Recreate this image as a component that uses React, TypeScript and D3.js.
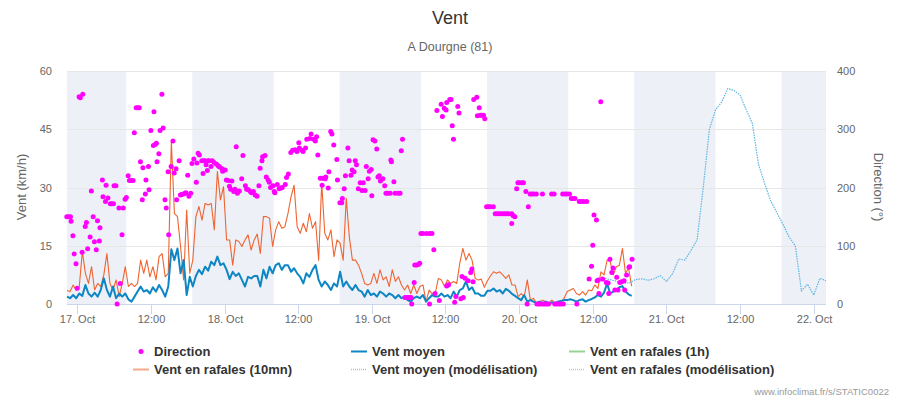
import React, { useEffect, useRef } from 'react';
import * as d3 from 'd3';

// hours are counted from 17 Oct 00:00
const day0 = new Date(2023, 9, 17, 0, 0).getTime();
const obsStartHour = -5 / 3; // 16 Oct 22:20
const obsStepHours = 0.5;

const gust10mn = [
  3.5, 3.2, 4.9, 3.6, 4.5, 13.5, 7.9, 5.3, 9.6, 3.6,
  5.3, 4.5, 7.5, 13.0, 5.3, 3.6, 6.2, 1.9, 5.3, 9.6,
  4.5, 5.3, 4.5, 5.3, 11.3, 7.9, 11.3, 7.0, 9.6, 6.2,
  12.2, 13.0, 7.0, 7.9, 42.0, 23.3, 22.5, 14.8, 6.2, 24.2,
  7.9, 11.3, 22.5, 25.1, 21.6, 25.9, 25.5, 25.9, 19.1, 34.1,
  26.8, 30.2, 16.5, 16.5, 10.0, 16.5, 16.1, 14.8, 16.5, 17.8,
  13.9, 16.5, 18.0, 13.0, 22.5, 22.5, 22.1, 14.8, 19.1, 21.2,
  19.5, 19.9, 23.3, 27.6, 30.6, 19.9, 18.2, 20.8, 18.6, 23.3,
  19.5, 21.2, 11.3, 31.1, 18.2, 16.5, 19.1, 12.2, 16.5, 15.6,
  11.3, 27.2, 17.3, 11.3, 11.3, 10.0, 7.9, 5.3, 4.9, 5.3,
  7.9, 5.3, 8.8, 6.2, 7.0, 4.5, 8.8, 5.8, 7.0, 4.9,
  3.6, 4.9, 2.7, 4.9, 2.7, 4.5, 4.9, 0.6, 3.6, 2.7,
  2.7, 6.6, 6.2, 4.6, 6.2, 5.3, 5.8, 5.3, 10.5, 14.3,
  11.3, 13.0, 11.3, 6.6, 6.2, 6.4, 4.3, 6.0, 7.2, 8.3,
  7.9, 8.3, 7.5, 6.6, 7.5, 4.9, 4.9, 1.9, 2.7, 1.9,
  6.2, 1.0, 1.5, 0.2, 0.6, 1.0, 0.6, 0.2, 1.0, 0.2,
  0.3, 0.3, 1.5, 3.2, 3.6, 4.0, 2.7, 2.3, 3.2, 2.3,
  3.6, 3.4, 4.9, 4.0, 8.3, 7.5, 11.3, 10.9, 7.5, 9.6,
  10.0, 14.3, 7.9, 9.2, 4.6,
];

const meanWind = [
  1.9, 1.5, 2.3, 1.5, 2.7, 2.1, 4.9, 2.7, 1.9, 2.9,
  1.9, 3.6, 6.6, 3.6, 1.9, 4.5, 1.5, 2.7, 1.9, 2.7,
  1.2, 0.6, 1.9, 3.2, 4.5, 3.2, 3.6, 2.7, 4.3, 3.2,
  4.9, 3.6, 1.9, 4.5, 14.1, 11.3, 14.3, 7.9, 11.3, 2.3,
  7.0, 4.5, 7.2, 8.8, 7.7, 9.6, 8.6, 10.9, 10.0, 12.2,
  10.0, 10.5, 8.8, 6.4, 8.3, 7.2, 7.9, 6.2, 4.5, 7.0,
  6.6, 7.2, 7.2, 4.5, 8.8, 6.6, 9.6, 7.9, 10.0, 10.5,
  8.8, 10.0, 10.0, 8.3, 9.2, 7.9, 7.0, 5.3, 7.9, 7.0,
  8.8, 10.0, 6.2, 4.5, 5.8, 4.9, 3.6, 5.3, 4.5, 8.3,
  4.5, 5.8, 4.5, 3.6, 4.9, 3.6, 3.2, 1.9, 3.6, 2.3,
  2.7, 1.9, 3.2, 2.7, 1.9, 2.7, 2.3, 1.5, 2.3, 1.5,
  1.9, 1.0, 0.6, 1.5, 1.9, 1.5, 2.3, 0.6, 1.5, 2.3,
  1.9, 1.9, 2.7, 1.9, 2.3, 1.5, 3.2, 1.9, 3.6, 4.0,
  5.8, 3.6, 4.3, 2.7, 2.7, 2.1, 2.1, 3.4, 3.4, 4.0,
  3.2, 3.6, 2.7, 3.9, 3.4, 2.6, 2.1, 1.5, 1.0, 2.3,
  0.6, 1.0, 0.6, 0.2, 0.6, 0.2, 0.6, 0.2, 0.4, 0.2,
  0.6, 0.8, 1.0, 1.0, 1.2, 1.0, 0.6, 1.0, 1.2, 0.6,
  1.0, 1.3, 1.7, 2.3, 1.9, 2.9, 5.3, 2.7, 3.2, 3.6,
  4.3, 4.6, 3.2, 2.5, 2.1,
];

// [hour, degrees]
const direction: [number, number][] = [
  [-1.7, 150], [-1.4, 150], [-1.1, 150], [-1.0, 142], [-0.7, 117], [-0.5, 86], [-0.2, 69], [0, 27],
  [0.3, 356], [0.5, 354], [0.8, 89], [0.9, 360], [1.3, 133], [1.5, 140], [1.7, 95], [2.1, 115],
  [2.3, 194], [2.6, 150], [2.8, 107], [3.1, 93], [3.3, 143], [3.6, 108], [3.7, 131], [4.1, 213],
  [4.2, 184], [4.6, 176], [4.7, 204], [5.0, 182], [5.4, 172], [5.6, 172], [5.9, 172], [6.0, 203],
  [6.3, 203], [6.5, 0], [6.8, 165], [7.0, 35], [7.3, 119], [7.5, 165], [7.8, 180], [8.0, 183],
  [8.3, 220], [8.5, 212], [8.8, 212], [9.1, 212], [9.3, 294], [9.6, 337], [9.9, 337], [10.1, 337],
  [10.3, 244], [10.6, 179], [10.7, 234], [11.1, 189], [11.2, 213], [11.6, 236], [11.7, 196], [12.0, 298],
  [12.4, 272], [12.5, 330], [12.7, 274], [12.9, 276], [13.0, 244], [13.3, 258], [13.5, 298], [13.8, 360],
  [14.0, 302], [14.3, 179], [14.5, 165], [14.8, 227], [14.9, 119], [15.3, 236], [15.6, 280], [15.8, 225],
  [16.1, 232], [16.2, 179], [16.6, 246], [16.8, 187], [17.0, 188], [17.3, 189], [17.6, 190], [17.7, 191],
  [18.0, 221], [18.2, 185], [18.5, 190], [18.7, 241], [19.0, 249], [19.4, 209], [19.5, 242], [19.7, 259],
  [19.9, 256], [20.3, 246], [20.5, 224], [20.6, 246], [20.8, 246], [21.0, 239], [21.2, 229], [21.3, 246],
  [21.5, 246], [21.8, 236], [22.0, 246], [22.3, 243], [22.7, 240], [23.0, 237], [23.2, 235], [23.6, 232],
  [23.7, 228], [24.1, 230], [24.3, 213], [24.6, 212], [24.8, 202], [25.0, 197], [25.2, 211], [25.5, 193],
  [25.7, 197], [25.9, 270], [26.1, 190], [26.4, 194], [26.8, 215], [27.0, 255], [27.4, 203], [27.6, 197],
  [27.9, 196], [28.2, 193], [28.4, 191], [28.7, 193], [29.0, 187], [29.3, 185], [29.6, 203], [29.8, 233],
  [30.1, 246], [30.2, 253], [30.6, 255], [30.8, 218], [31.1, 213], [31.3, 209], [31.5, 200], [31.9, 203],
  [32.1, 193], [32.2, 191], [32.6, 205], [32.9, 198], [33.2, 199], [33.4, 200], [33.9, 205], [34.1, 217],
  [34.4, 223], [34.8, 260], [35.1, 264], [35.5, 265], [35.8, 262], [36.1, 277], [36.2, 268], [36.6, 264],
  [36.8, 262], [37.2, 268], [37.4, 283], [37.9, 284], [38.1, 292], [38.5, 283], [38.8, 280], [39.0, 287],
  [39.2, 256], [39.6, 216], [39.9, 204], [40.0, 216], [40.4, 215], [40.5, 218], [40.9, 199], [41.0, 227],
  [41.3, 296], [41.5, 292], [41.8, 273], [42.3, 248], [42.4, 213], [42.8, 174], [43.1, 174], [43.2, 181],
  [43.5, 198], [43.7, 220], [44.1, 268], [44.3, 246], [44.6, 221], [44.8, 230], [45.1, 227], [45.3, 246],
  [45.5, 239], [45.8, 198], [46.1, 208], [46.4, 195], [46.6, 208], [46.9, 195], [47.1, 236], [47.4, 215],
  [47.6, 228], [47.9, 231], [48.0, 186], [48.2, 282], [48.5, 280], [48.8, 266], [49.0, 218], [49.2, 220],
  [49.4, 211], [49.8, 215], [50.1, 203], [50.3, 190], [50.6, 190], [51.0, 190], [51.1, 247], [51.2, 244],
  [51.6, 210], [51.8, 190], [52.3, 190], [52.6, 190], [52.8, 263], [53.0, 283], [53.4, 11], [53.7, 11],
  [53.9, 11], [54.2, 11], [54.4, 11], [54.5, 0], [54.9, 37], [55.0, 67], [55.3, 67], [55.6, 68],
  [55.8, 70], [56.0, 121], [56.3, 121], [56.9, 121], [57.4, 121], [57.4, 0], [57.8, 121], [58.1, 93],
  [58.3, 18], [58.6, 332], [59.0, 6], [59.3, 343], [59.5, 322], [59.8, 336], [60.1, 333], [60.2, 31],
  [60.2, 346], [60.5, 33], [60.7, 351], [60.9, 351], [61.1, 306], [61.3, 283], [61.5, 3], [61.7, 13],
  [62.0, 339], [62.2, 328], [62.5, 9], [62.7, 47], [62.9, 11], [63.2, 44], [63.7, 40], [64.1, 54],
  [64.3, 60], [64.5, 38], [64.6, 351], [65.1, 355], [65.2, 323], [65.5, 337], [65.7, 324], [65.9, 324],
  [66.2, 324], [66.4, 318], [66.7, 167], [67.0, 167], [67.3, 167], [67.8, 167], [68.1, 155], [68.4, 155],
  [68.7, 155], [69.0, 155], [69.4, 155], [69.7, 155], [70.0, 155], [70.3, 155], [70.8, 138], [70.8, 155],
  [71.0, 152], [71.3, 150], [71.6, 198], [71.8, 208], [72.0, 208], [72.4, 208], [72.7, 208], [73.1, 193],
  [73.3, 0], [73.5, 167], [73.8, 189], [74.1, 189], [74.4, 189], [74.8, 189], [74.9, 0], [75.2, 0],
  [75.5, 0], [75.8, 189], [75.9, 0], [76.2, 0], [76.5, 0], [76.8, 0], [77.3, 189], [77.7, 189],
  [77.8, 0], [78.1, 0], [78.5, 0], [78.8, 0], [79.1, 189], [79.2, 0], [79.5, 189], [79.8, 189],
  [80.2, 189], [80.5, 181], [80.8, 181], [81.1, 181], [81.4, 0], [81.8, 176], [82.1, 176], [82.5, 176],
  [83.0, 176], [83.4, 43], [83.8, 65], [84.0, 101], [84.2, 153], [84.6, 144], [84.7, 40], [84.9, 41],
  [85.0, 18], [85.3, 347], [85.6, 43], [86.2, 37], [86.5, 36], [86.6, 18], [86.8, 77], [87.1, 54],
  [87.3, 62], [87.6, 24], [87.9, 46], [88.1, 24], [88.4, 37], [88.7, 38], [89.1, 40], [89.2, 24],
  [89.5, 50], [89.9, 63], [90.0, 64], [90.4, 77],
];

const modelStartHour = 86;
const modelMean = [
  6.6, 6.2, 5.8, 5.3, 5.5, 6.3, 6.5, 6.1, 6.5, 7.3,
  5.8, 7.8, 11.6, 11.3, 13.8, 16.5, 30.0, 45.0, 50.0, 52.0,
  55.5, 55.0, 53.8, 50.0, 46.5, 36.0, 31.0, 26.5, 23.5, 20.5,
  17.2, 15.0, 3.4, 5.1, 2.3, 6.6, 6.0,
];

// night bands [start hour, end hour]
const nights: [number, number][] = [
  [-2, 8], [18.75, 32], [42.75, 56], [66.75, 80], [90.75, 104], [114.75, 123],
];

const xTickHours = [0, 12, 24, 36, 48, 60, 72, 84, 96, 108, 120];
const windTicks = [0, 15, 30, 45, 60];
const dirTicks = [0, 100, 200, 300, 400];

const toDate = (h: number) => new Date(day0 + h * 3600 * 1000);

const App = () => {
  const ref = useRef<HTMLDivElement>(null);

  useEffect(() => {
    const root = d3.select(ref.current);
    root.selectAll('*').remove();
    const svg = root.append('svg').attr('width', 900).attr('height', 400)
      .style('font-family', '"Liberation Sans", Arial, sans-serif');

    const left = 67, right = 826, top = 71, bottom = 304;
    const x = d3.scaleTime().domain([toDate(obsStartHour), toDate(122)]).range([left, right]);
    const yW = d3.scaleLinear().domain([0, 60]).range([bottom, top]);
    const yD = d3.scaleLinear().domain([0, 400]).range([bottom, top]);

    svg.append('rect').attr('width', 900).attr('height', 400).attr('fill', '#fff');

    // night bands
    svg.append('g').selectAll('rect').data(nights).enter().append('rect')
      .attr('x', d => Math.max(left, x(toDate(d[0]))))
      .attr('width', d => Math.min(right, x(toDate(d[1]))) - Math.max(left, x(toDate(d[0]))))
      .attr('y', top).attr('height', bottom - top)
      .attr('fill', '#edf0f7');

    // grid
    svg.append('g').selectAll('line').data(windTicks).enter().append('line')
      .attr('x1', left).attr('x2', right)
      .attr('y1', d => Math.round(yW(d)) + 0.5).attr('y2', d => Math.round(yW(d)) + 0.5)
      .attr('stroke', '#e6e6e6');

    // x axis
    svg.append('line').attr('x1', left).attr('x2', right).attr('y1', bottom + 0.5).attr('y2', bottom + 0.5)
      .attr('stroke', '#ccd6eb');
    const fmtDay = d3.timeFormat('%-d. %b');
    const xt = svg.append('g').selectAll('g').data(xTickHours).enter().append('g')
      .attr('transform', h => `translate(${Math.round(x(toDate(h))) + 0.5},0)`);
    xt.append('line').attr('y1', bottom).attr('y2', bottom + 10).attr('stroke', '#ccd6eb');
    xt.append('text').attr('y', 323).attr('text-anchor', 'middle')
      .style('font-size', '11px').attr('fill', '#666')
      .text(h => (h % 24 === 0 ? fmtDay(toDate(h)) : '12:00'));

    // y axes labels
    svg.append('g').selectAll('text').data(windTicks).enter().append('text')
      .attr('x', 52).attr('y', d => yW(d) + 4).attr('text-anchor', 'end')
      .style('font-size', '11px').attr('fill', '#666').text(d => d);
    svg.append('g').selectAll('text').data(dirTicks).enter().append('text')
      .attr('x', 837).attr('y', d => yD(d) + 4).attr('text-anchor', 'start')
      .style('font-size', '11px').attr('fill', '#666').text(d => d);
    svg.append('text').attr('transform', 'translate(26,187) rotate(-90)')
      .attr('text-anchor', 'middle').style('font-size', '13px').attr('fill', '#666').text('Vent (km/h)');
    svg.append('text').attr('transform', 'translate(874,187) rotate(90)')
      .attr('text-anchor', 'middle').style('font-size', '13px').attr('fill', '#666').text('Direction (°)');

    // titles
    svg.append('text').attr('x', 450).attr('y', 24).attr('text-anchor', 'middle')
      .style('font-size', '18px').attr('fill', '#333').text('Vent');
    svg.append('text').attr('x', 450).attr('y', 51).attr('text-anchor', 'middle')
      .style('font-size', '12.5px').attr('fill', '#666').text('A Dourgne (81)');

    const obsTime = (i: number) => toDate(obsStartHour + i * obsStepHours);
    const plot = svg.append('g');

    const gustLine = d3.line<number>().x((_, i) => x(obsTime(i))).y(d => yW(d));
    plot.append('path').datum(gust10mn).attr('d', gustLine)
      .attr('fill', 'none').attr('stroke', '#ef6430').attr('stroke-width', 1.1).attr('stroke-linejoin', 'round');

    plot.append('path').datum(meanWind).attr('d', gustLine)
      .attr('fill', 'none').attr('stroke', '#0e86c4').attr('stroke-width', 2).attr('stroke-linejoin', 'round');

    const modelLine = d3.line<number>().x((_, i) => x(toDate(modelStartHour + i))).y(d => yW(d));
    plot.append('path').datum(modelMean).attr('d', modelLine)
      .attr('fill', 'none').attr('stroke', '#5fb6e0').attr('stroke-width', 1.2)
      .attr('stroke-dasharray', '1.5,1');

    plot.append('g').selectAll('circle').data(direction).enter().append('circle')
      .attr('cx', d => x(toDate(d[0]))).attr('cy', d => yD(d[1])).attr('r', 2.5)
      .attr('fill', '#ff00ff');

    // legend
    const lg = svg.append('g').style('font-size', '13px').style('font-weight', 'bold').attr('fill', '#333');
    lg.append('circle').attr('cx', 141).attr('cy', 351.5).attr('r', 2.5).attr('fill', '#ff00ff');
    lg.append('text').attr('x', 154).attr('y', 356).text('Direction');
    lg.append('line').attr('x1', 351).attr('x2', 367).attr('y1', 351.5).attr('y2', 351.5)
      .attr('stroke', '#0e86c4').attr('stroke-width', 2);
    lg.append('text').attr('x', 372).attr('y', 356).text('Vent moyen');
    lg.append('line').attr('x1', 569).attr('x2', 585).attr('y1', 351.5).attr('y2', 351.5)
      .attr('stroke', '#95d495').attr('stroke-width', 2);
    lg.append('text').attr('x', 590).attr('y', 356).text('Vent en rafales (1h)');
    lg.append('line').attr('x1', 133).attr('x2', 149).attr('y1', 369.5).attr('y2', 369.5)
      .attr('stroke', '#f5a88a').attr('stroke-width', 2);
    lg.append('text').attr('x', 154).attr('y', 374).text('Vent en rafales (10mn)');
    lg.append('line').attr('x1', 351).attr('x2', 367).attr('y1', 369.5).attr('y2', 369.5)
      .attr('stroke', '#8cc8e8').attr('stroke-width', 1.5).attr('stroke-dasharray', '1,1');
    lg.append('text').attr('x', 372).attr('y', 374).text('Vent moyen (modélisation)');
    lg.append('line').attr('x1', 569).attr('x2', 585).attr('y1', 369.5).attr('y2', 369.5)
      .attr('stroke', '#a6dba6').attr('stroke-width', 1.5).attr('stroke-dasharray', '1,1');
    lg.append('text').attr('x', 590).attr('y', 374).text('Vent en rafales (modélisation)');

    svg.append('text').attr('x', 889).attr('y', 395).attr('text-anchor', 'end')
      .style('font-size', '9.5px').attr('fill', '#999').text('www.infoclimat.fr/s/STATIC0022');
  }, []);

  return <div ref={ref} style={{ position: 'absolute', left: 0, top: 0 }}></div>;
};

export default App;
